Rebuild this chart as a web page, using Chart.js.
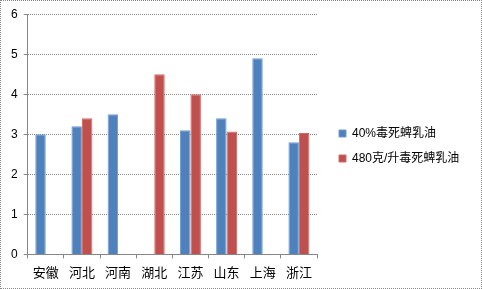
<!DOCTYPE html>
<html>
<head>
<meta charset="utf-8">
<script src="https://cdn.jsdelivr.net/npm/chart.js@4.4.1/dist/chart.umd.min.js"></script>
<style>
  html, body { margin: 0; padding: 0; background: #fff; }
  #wrap { position: relative; width: 480px; height: 287px; border: 1px dotted #888; }
</style>
</head>
<body>
<div id="wrap"><canvas id="chart"></canvas></div>
<script>
// data
const provinces = ["安徽", "河北", "河南", "湖北", "江苏", "山东", "上海", "浙江"];
const seriesNames = ["40%毒死蜱乳油", "480克/升毒死蜱乳油"];
const ec40 = [3.0, 3.2, 3.5, null, 3.1, 3.4, 4.9, 2.8];
const ec480 = [null, 3.4, null, 4.5, 4.0, 3.07, null, 3.03];
const yTicks = [0, 1, 2, 3, 4, 5, 6];

const fontFamily = "'Liberation Sans', 'Noto Sans CJK SC', sans-serif";
Chart.defaults.font.family = fontFamily;
Chart.defaults.color = "#000";

// keep the legend column a fixed width so the plot ends where the original does
const legendWidth = 164;
const legendShiftX = 9;
const legendShiftY = -3;
const fixedLegend = {
  id: "fixedLegend",
  beforeLayout(chart) {
    const lg = chart.legend;
    if (lg && !lg._fixed) {
      const fit = lg.fit.bind(lg);
      lg.fit = function () {
        fit();
        this.width = legendWidth;
      };
      lg._fixed = true;
    }
  },
  afterLayout(chart) {
    const lg = chart.legend;
    lg.left += legendShiftX;
    lg.right += legendShiftX;
    lg.top += legendShiftY;
    lg.bottom += legendShiftY;
  },
};

const ctx = document.getElementById("chart");
new Chart(ctx, {
  type: "bar",
  data: {
    labels: provinces,
    datasets: [
      {
        label: seriesNames[0],
        data: ec40,
        backgroundColor: "#4F81BD",
        borderColor: "#6f9bd0",
        borderWidth: 1,
      },
      {
        label: seriesNames[1],
        data: ec480,
        backgroundColor: "#C0504D",
        borderColor: "#d06a66",
        borderWidth: 1,
      },
    ],
  },
  options: {
    responsive: true,
    maintainAspectRatio: false,
    animation: false,
    layout: { padding: { top: 9, right: 0, left: 4, bottom: 0 } },
    datasets: {
      bar: { categoryPercentage: 0.58, barPercentage: 1.0 },
    },
    plugins: {
      tooltip: { enabled: false },
      legend: {
        position: "right",
        align: "center",
        labels: {
          boxWidth: 7,
          boxHeight: 7,
          padding: 13,
          font: { size: 12, family: fontFamily },
        },
      },
    },
    scales: {
      x: {
        grid: {
          offset: true,
          drawOnChartArea: false,
          tickLength: 4,
          color: "#868686",
        },
        border: { color: "#868686" },
        ticks: { font: { size: 13 }, padding: 7 },
      },
      y: {
        min: 0,
        max: 6,
        afterBuildTicks: (axis) => {
          axis.ticks = yTicks.map((v) => ({ value: v }));
        },
        grid: {
          color: "#8c8c8c",
          tickLength: 4,
        },
        border: { color: "#868686", dash: [1, 1] },
        ticks: { font: { size: 12 }, padding: 6 },
      },
    },
  },
  plugins: [fixedLegend],
});
</script>
</body>
</html>
